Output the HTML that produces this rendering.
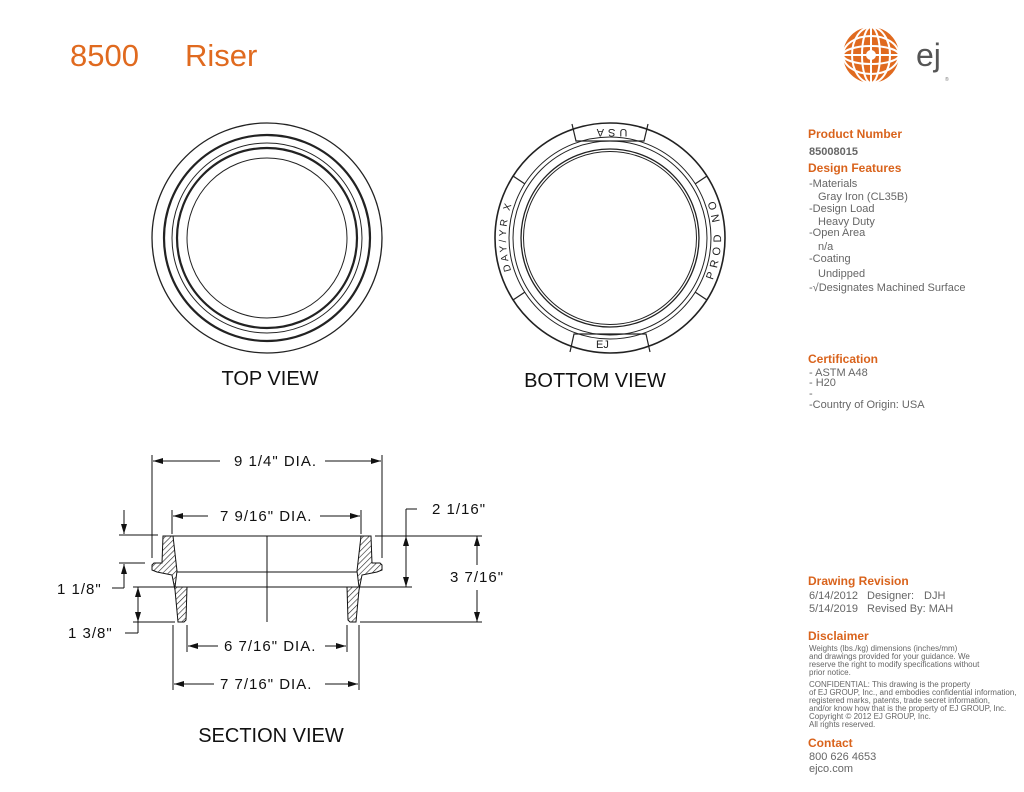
<!DOCTYPE html>
<html><head><meta charset="utf-8"><style>
html,body{margin:0;padding:0;background:#fff;width:1024px;height:792px;overflow:hidden}
svg{display:block}
.o{fill:#e06a1f;font-family:"Liberation Sans",sans-serif}
.h{font-family:"Liberation Sans",sans-serif;font-weight:bold;fill:#d9631c;font-size:12px}
.t{font-family:"Liberation Sans",sans-serif;fill:#666;font-size:11px}
.s{font-family:"Liberation Sans",sans-serif;fill:#666;font-size:8px}
.d{font-family:"Liberation Sans",sans-serif;fill:#111;font-size:15px;letter-spacing:1px}
.l{font-family:"Liberation Sans",sans-serif;fill:#111;font-size:20px}
</style></head><body>
<svg width="1024" height="792" viewBox="0 0 1024 792" xmlns="http://www.w3.org/2000/svg">
<defs>
<pattern id="hp" width="4" height="4" patternUnits="userSpaceOnUse" patternTransform="rotate(45)">
<rect width="4" height="4" fill="#fff"/><line x1="0" y1="0" x2="0" y2="4" stroke="#222" stroke-width="1.2"/></pattern>
<marker id="a" viewBox="0 0 10 6" refX="10" refY="3" markerWidth="10" markerHeight="6" orient="auto-start-reverse" markerUnits="userSpaceOnUse"><path d="M0,0 L10,3 L0,6z" fill="#111"/></marker>
<path id="pl" d="M519.9,290 A104,104 0 0 1 521.8,182.9"/>
<path id="pr" d="M706.1,293.5 A111,111 0 0 0 706.1,182.5"/>
</defs>
<text x="70" y="66" class="o" font-size="31">8500</text>
<text x="185" y="66" class="o" font-size="31">Riser</text>
<!-- logo -->
<circle cx="871" cy="55" r="28" fill="#e06a1f"/>
<g stroke="#fff" stroke-width="2" fill="none">
<ellipse cx="871" cy="55" rx="9" ry="28"/><ellipse cx="871" cy="55" rx="19" ry="28"/>
<ellipse cx="871" cy="55" rx="28" ry="9"/><ellipse cx="871" cy="55" rx="28" ry="19"/>
<line x1="843" y1="55" x2="899" y2="55"/><line x1="871" y1="27" x2="871" y2="83"/>
</g>
<circle cx="871" cy="55" r="5" fill="#fff"/>
<text x="916" y="66" font-family="Liberation Sans,sans-serif" font-size="32" fill="#555">ej</text>
<text x="945" y="81" font-family="Liberation Sans,sans-serif" font-size="5" fill="#777">®</text>
<!-- top view -->
<g fill="none" stroke="#222">
<circle cx="267" cy="238" r="115" stroke-width="1.3"/>
<circle cx="267" cy="238" r="103" stroke-width="2.2"/>
<circle cx="267" cy="238" r="95" stroke-width="1"/>
<circle cx="267" cy="238" r="90" stroke-width="2.2"/>
<circle cx="267" cy="238" r="80" stroke-width="1"/>
</g>
<text x="270" y="385" class="l" text-anchor="middle">TOP VIEW</text>
<!-- bottom view -->
<g fill="none" stroke="#222">
<circle cx="610" cy="238" r="115" stroke-width="1.6"/>
<circle cx="610" cy="238" r="101" stroke-width="1"/>
<circle cx="610" cy="238" r="97" stroke-width="1"/>
<circle cx="610" cy="238" r="89" stroke-width="1.3"/>
<circle cx="610" cy="238" r="86.5" stroke-width="1"/>
<path d="M572,124 L576,141 L644,141 L648,124" stroke-width="1.2"/>
<path d="M570,352 L574,334 L646,334 L650,352" stroke-width="1.2"/>
<path d="M513,176 L525,184" stroke-width="1.2"/>
<path d="M513,300 L525,292" stroke-width="1.2"/>
<path d="M707,176 L695,184" stroke-width="1.2"/>
<path d="M707,300 L695,292" stroke-width="1.2"/>
</g>
<text x="610" y="139" text-anchor="middle" transform="rotate(180 610 134)" font-family="Liberation Sans,sans-serif" font-size="11" letter-spacing="4" fill="#222">USA</text>
<text x="596" y="348" font-family="Liberation Sans,sans-serif" font-size="11" fill="#222">EJ</text>
<text font-family="Liberation Sans,sans-serif" font-size="10" letter-spacing="3" fill="#222"><textPath href="#pl" startOffset="50%" text-anchor="middle">DAY/YR X</textPath></text>
<text font-family="Liberation Sans,sans-serif" font-size="11" letter-spacing="5" fill="#222"><textPath href="#pr" startOffset="50%" text-anchor="middle">PROD NO</textPath></text>
<text x="595" y="387" class="l" text-anchor="middle">BOTTOM VIEW</text>
<!-- section view -->
<g stroke="#111" stroke-width="1" fill="none">
<line x1="173" y1="536" x2="361" y2="536"/>
<line x1="176" y1="572" x2="358" y2="572"/>
<line x1="187" y1="587" x2="347" y2="587"/>
<line x1="267" y1="536" x2="267" y2="622"/>
<line x1="375" y1="536" x2="482" y2="536"/>
<line x1="360" y1="587" x2="412" y2="587"/>
<line x1="360" y1="622" x2="482" y2="622"/>
<line x1="119" y1="535" x2="158" y2="535"/>
<line x1="119" y1="563" x2="145" y2="563"/>
<line x1="133" y1="587" x2="175" y2="587"/>
<line x1="133" y1="622" x2="175" y2="622"/>
<line x1="152" y1="455" x2="152" y2="558"/>
<line x1="382" y1="455" x2="382" y2="558"/>
<line x1="172" y1="510" x2="172" y2="534"/>
<line x1="361" y1="510" x2="361" y2="534"/>
<line x1="187" y1="625" x2="187" y2="652"/>
<line x1="347" y1="625" x2="347" y2="652"/>
<line x1="173" y1="625" x2="173" y2="690"/>
<line x1="359" y1="625" x2="359" y2="690"/>
<g marker-end="url(#a)">
<line x1="220" y1="461" x2="153" y2="461"/><line x1="325" y1="461" x2="381" y2="461"/>
<line x1="208" y1="516" x2="173" y2="516"/><line x1="320" y1="516" x2="360" y2="516"/>
<line x1="218" y1="646" x2="188" y2="646"/><line x1="325" y1="646" x2="346" y2="646"/>
<line x1="214" y1="684" x2="174" y2="684"/><line x1="325" y1="684" x2="358" y2="684"/>
<line x1="124" y1="510" x2="124" y2="534"/>
<line x1="124" y1="588" x2="124" y2="564"/>
</g>
<line x1="112" y1="588" x2="124" y2="588"/>
<line x1="138" y1="622" x2="138" y2="633"/><line x1="125" y1="633" x2="138" y2="633"/>
<line x1="406" y1="509" x2="406" y2="536"/><line x1="417" y1="509" x2="406" y2="509"/>
<line x1="138" y1="587" x2="138" y2="622" marker-start="url(#a)" marker-end="url(#a)"/>
<line x1="406" y1="536" x2="406" y2="587" marker-start="url(#a)" marker-end="url(#a)"/>
<line x1="477" y1="536" x2="477" y2="565" marker-start="url(#a)"/>
<line x1="477" y1="590" x2="477" y2="622" marker-end="url(#a)"/>
</g>
<g fill="url(#hp)" stroke="#111" stroke-width="1">
<path d="M163,536 L173,536 L177,571 L175,587 L187,587 L186,620 L184,622 L178,622 L175,590 L172,575 L157,572 L152,570 L152,565 L154,563 L162,563 Z"/>
<path d="M371,536 L361,536 L357,571 L359,587 L347,587 L348,620 L350,622 L356,622 L359,590 L362,575 L377,572 L382,570 L382,565 L380,563 L372,563 Z"/>
</g>
<text x="234" y="466" class="d">9 1/4" DIA.</text>
<text x="220" y="521" class="d">7 9/16" DIA.</text>
<text x="432" y="514" class="d">2 1/16"</text>
<text x="450" y="582" class="d">3 7/16"</text>
<text x="57" y="594" class="d">1 1/8"</text>
<text x="68" y="638" class="d">1 3/8"</text>
<text x="224" y="651" class="d">6 7/16" DIA.</text>
<text x="220" y="689" class="d">7 7/16" DIA.</text>
<text x="271" y="742" class="l" text-anchor="middle">SECTION VIEW</text>
<!-- side panel -->
<text x="808" y="138" class="h">Product Number</text>
<text x="809" y="155" class="t" font-weight="bold">85008015</text>
<text x="808" y="172" class="h">Design Features</text>
<text x="809" y="187" class="t">-Materials</text>
<text x="818" y="200" class="t">Gray Iron (CL35B)</text>
<text x="809" y="212" class="t">-Design Load</text>
<text x="818" y="225" class="t">Heavy Duty</text>
<text x="809" y="236" class="t">-Open Area</text>
<text x="818" y="250" class="t">n/a</text>
<text x="809" y="262" class="t">-Coating</text>
<text x="818" y="277" class="t">Undipped</text>
<text x="809" y="291" class="t">-√Designates Machined Surface</text>
<text x="808" y="363" class="h">Certification</text>
<text x="809" y="376" class="t">- ASTM A48</text>
<text x="809" y="386" class="t">- H20</text>
<text x="809" y="397" class="t">-</text>
<text x="809" y="408" class="t">-Country of Origin: USA</text>
<text x="808" y="585" class="h">Drawing Revision</text>
<text x="809" y="599" class="t">6/14/2012</text><text x="867" y="599" class="t">Designer:</text><text x="924" y="599" class="t">DJH</text>
<text x="809" y="612" class="t">5/14/2019</text><text x="867" y="612" class="t">Revised By: MAH</text>
<text x="808" y="640" class="h">Disclaimer</text>
<text x="809" y="651" class="s">Weights (lbs./kg) dimensions (inches/mm)</text>
<text x="809" y="659" class="s">and drawings provided for your guidance.  We</text>
<text x="809" y="667" class="s">reserve the right to modify specifications without</text>
<text x="809" y="675" class="s">prior notice.</text>
<text x="809" y="687" class="s">CONFIDENTIAL: This drawing is the property</text>
<text x="809" y="695" class="s">of EJ GROUP, Inc., and embodies confidential information,</text>
<text x="809" y="703" class="s">registered marks, patents, trade secret information,</text>
<text x="809" y="711" class="s">and/or know how that is the property of EJ GROUP, Inc.</text>
<text x="809" y="719" class="s">Copyright © 2012 EJ GROUP, Inc.</text>
<text x="809" y="727" class="s">All rights reserved.</text>
<text x="808" y="747" class="h">Contact</text>
<text x="809" y="760" class="t">800 626 4653</text>
<text x="809" y="772" class="t">ejco.com</text>
</svg>
</body></html>
